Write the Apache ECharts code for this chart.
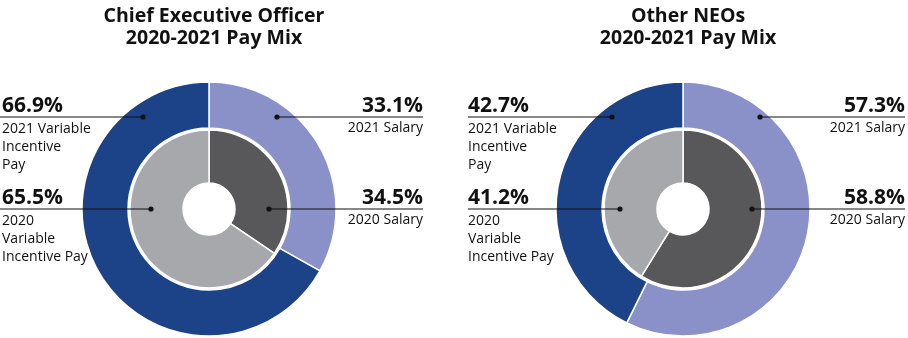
<!DOCTYPE html>
<html><head><meta charset="utf-8">
<script src="https://cdn.jsdelivr.net/npm/echarts@6/dist/echarts.min.js"></script>
<style>html,body{margin:0;padding:0;background:#fff}#c{width:908px;height:338px}</style>
</head><body><div id="c"></div>
<script>
// ---- data ----
const titles = ['Chief Executive Officer\n2020-2021 Pay Mix', 'Other NEOs\n2020-2021 Pay Mix'];
const categories = ['Salary', 'Variable Incentive Pay'];
const salary2021 = [33.1, 57.3];
const variable2021 = [66.9, 42.7];
const salary2020 = [34.5, 58.8];
const variable2020 = [65.5, 41.2];
const salaryLabel2021 = '2021 Salary';
const variableLabel2021 = '2021 Variable\nIncentive\nPay';
const salaryLabel2020 = '2020 Salary';
const variableLabel2020 = '2020\nVariable\nIncentive Pay';

// ---- layout ----
const FONT = '"Open Sans", "Noto Sans", sans-serif';
const centers = [209, 683];
const cy = 209;
const leftTextX = [2, 468];
const leftLineX = [0, 468];
const rightEdge = [423, 905];
const dotOuterR = [68, 77], dotOuterL = [66, 71];
const dotInnerR = [60, 69], dotInnerL = [58, 63];
const yTop = 117, yBot = 209;
const colors = { sal21: '#8a90c8', var21: '#1c4387', sal20: '#58585a', var20: '#a7a8ab' };

const series = [];
const graphic = [];
const title = [];
const fmt = v => v.toFixed(1) + '%';

centers.forEach((cx, i) => {
  title.push({
    text: titles[i], left: cx, top: 0, textAlign: 'center',
    textStyle: { fontFamily: FONT, fontWeight: 'bold', fontSize: 19.5, lineHeight: 22, color: '#111' }
  });
  series.push({
    type: 'pie', center: [cx, cy], radius: [81, 127], startAngle: 90, silent: true,
    label: { show: false }, labelLine: { show: false },
    itemStyle: { borderColor: '#fff', borderWidth: 1.5 },
    data: [
      { name: categories[0], value: salary2021[i], itemStyle: { color: colors.sal21 } },
      { name: categories[1], value: variable2021[i], itemStyle: { color: colors.var21 } }
    ]
  });
  series.push({
    type: 'pie', center: [cx, cy], radius: [26, 79], startAngle: 90, silent: true,
    label: { show: false }, labelLine: { show: false },
    itemStyle: { borderColor: '#fff', borderWidth: 1.5 },
    data: [
      { name: categories[0], value: salary2020[i], itemStyle: { color: colors.sal20 } },
      { name: categories[1], value: variable2020[i], itemStyle: { color: colors.var20 } }
    ]
  });

  const line = (x1, x2, y) => ({ type: 'line', z: 100, shape: { x1, y1: y, x2, y2: y }, style: { stroke: '#111', lineWidth: 1 } });
  const dot = (x, y) => ({ type: 'circle', z: 101, shape: { cx: x, cy: y, r: 2.6 }, style: { fill: '#111' } });
  const big = (t, x, y, align) => ({ type: 'text', z: 100, x, y, style: { text: t, fontFamily: FONT, fontWeight: 'bold', fontSize: 21, fill: '#111', align, verticalAlign: 'bottom' } });
  const small = (t, x, y, align) => ({ type: 'text', z: 100, x, y, style: { text: t, fontFamily: FONT, fontSize: 14, lineHeight: 18, fill: '#111', align, verticalAlign: 'top' } });

  // left: variable
  graphic.push(line(leftLineX[i], cx - dotOuterL[i], yTop), dot(cx - dotOuterL[i], yTop));
  graphic.push(big(fmt(variable2021[i]), leftTextX[i], yTop, 'left'));
  graphic.push(small(variableLabel2021, leftTextX[i], yTop + 3, 'left'));
  graphic.push(line(leftLineX[i], cx - dotInnerL[i], yBot), dot(cx - dotInnerL[i], yBot));
  graphic.push(big(fmt(variable2020[i]), leftTextX[i], yBot, 'left'));
  graphic.push(small(variableLabel2020, leftTextX[i], yBot + 3, 'left'));
  // right: salary
  graphic.push(line(cx + dotOuterR[i], rightEdge[i], yTop), dot(cx + dotOuterR[i], yTop));
  graphic.push(big(fmt(salary2021[i]), rightEdge[i], yTop, 'right'));
  graphic.push(small(salaryLabel2021, rightEdge[i], yTop + 2, 'right'));
  graphic.push(line(cx + dotInnerR[i], rightEdge[i], yBot), dot(cx + dotInnerR[i], yBot));
  graphic.push(big(fmt(salary2020[i]), rightEdge[i], yBot, 'right'));
  graphic.push(small(salaryLabel2020, rightEdge[i], yBot + 2, 'right'));
});

const chart = echarts.init(document.getElementById('c'), null, { renderer: 'canvas' });
chart.setOption({ animation: false, title, series, graphic });
</script></body></html>
